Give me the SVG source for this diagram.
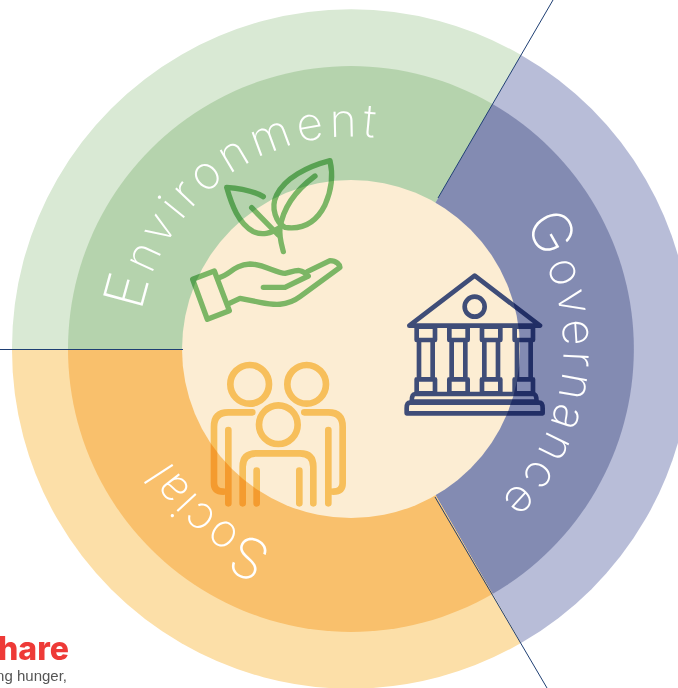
<svg xmlns="http://www.w3.org/2000/svg" width="678" height="688" viewBox="0 0 678 688">
<style>
.lbl{font-family:"Inter","Open Sans",sans-serif;font-weight:200;font-size:46px;fill:#fff}
.cap{font-size:56px}
.ic{fill:none;stroke-linecap:round;stroke-linejoin:round;mix-blend-mode:multiply}
.ln{stroke:#1f3f73;stroke-width:1;fill:none}
</style>
<defs>
<path id="arc" d="M351,561.500A212.500,212.500 0 1 1 351.010,561.500"/>
</defs>
<rect width="678" height="688" fill="#fff"/>
<g id="environment">
<path d="M351,349L12,349A339,339 0 0 1 521,55Z" fill="#d9e9d4"/>
<path d="M351,349L68,349A283,283 0 0 1 492.500,104Z" fill="#b5d3ad"/>
</g>
<g id="governance">
<path d="M351,349L521,55A339,339 0 0 1 521,643Z" fill="#b8bdd8"/>
<path d="M351,349L492.500,104A283,283 0 0 1 492.500,594Z" fill="#838bb2"/>
</g>
<g id="social">
<path d="M351,349L12,349A339,339 0 0 0 521,643Z" fill="#fcdfa8"/>
<path d="M351,349L68,349A283,283 0 0 0 492.500,594Z" fill="#f9c06c"/>
</g>
<circle id="core" cx="351" cy="349" r="169" fill="#fcedd3"/>
<g id="connectors">
<path class="ln" d="M438,198L553,0"/>
<path class="ln" d="M435,497L547,688"/>
<path class="ln" d="M0,349.500H183"/>
</g>
<g id="labels">
<text class="lbl" letter-spacing="5"><textPath href="#arc" startOffset="371"><tspan class="cap">E</tspan>nvironment</textPath></text>
<text class="lbl" letter-spacing="4"><textPath href="#arc" startOffset="868"><tspan class="cap">G</tspan>overnance</textPath></text>
<text class="lbl" letter-spacing="1"><textPath href="#arc" startOffset="79"><tspan class="cap">S</tspan>ocial</textPath></text>
</g>
<g id="icon-plant" class="ic" stroke="#7dc47a" stroke-width="16" transform="translate(170 140) scale(.3333)">
<path d="M280,170C250,152 210,145 170,142C185,195 205,250 250,275C275,287 305,280 325,265"/>
<path d="M480,62C410,80 345,115 320,165C300,205 320,250 345,262C400,270 440,245 465,195C485,150 490,105 480,62Z"/>
<path d="M435,108C385,145 340,195 330,265C327,290 335,315 340,335"/>
<path d="M245,203L325,285"/>
<path d="M68,418L133,393L178,512L112,538Z"/>
<path d="M150,412C180,405 190,375 240,372C280,372 320,400 345,400C370,395 395,380 412,408"/>
<path d="M280,442L345,442L415,408"/>
<path d="M412,395L480,362C500,362 510,375 510,382L390,470C350,500 310,495 270,487L210,475L178,490"/>
</g>
<g id="icon-temple" class="ic" stroke="#405391" stroke-width="14" transform="translate(390 260) scale(.3333)">
<path d="M58,197L254,47L450,197Z"/>
<circle cx="254" cy="140" r="30"/>
<path d="M80,200H135V240H80ZM87,240V358M128,240V358M80,358H135V400H80Z"/>
<path d="M178,200H233V240H178ZM185,240V358M226,240V358M178,358H233V400H178Z"/>
<path d="M276,200H331V240H276ZM283,240V358M324,240V358M276,358H331V400H276Z"/>
<path d="M374,200H429V240H374ZM381,240V358M422,240V358M374,358H429V400H374Z"/>
<path d="M75,402H430Q440,402 440,425H65Q65,402 75,402Z"/>
<path d="M60,428H448Q458,428 458,445V460H50V445Q50,428 60,428Z"/>
</g>
<g id="icon-people" class="ic" stroke="#face6e" stroke-width="20" transform="translate(195 350) scale(.3333)">
<circle cx="164" cy="103" r="58"/>
<circle cx="335" cy="103" r="58"/>
<circle cx="250" cy="224" r="58"/>
<path d="M172,187H100Q57,187 57,230V400Q57,425 85,425M100,240V460"/>
<path d="M328,187H400Q443,187 443,230V400Q443,425 415,425M400,240V460"/>
<path d="M143,460V350Q143,310 185,310H315Q355,310 355,350V460M185,362V460M313,362V460"/>
</g>
<g id="logo">
<text x="-2" y="660" font-family="Inter,Liberation Sans,sans-serif" font-weight="800" font-size="32" fill="#ee3a37">hare</text>
<text x="67" y="681" text-anchor="end" font-family="Liberation Sans,sans-serif" font-size="15" fill="#555">ng hunger,</text>
</g>
</svg>
